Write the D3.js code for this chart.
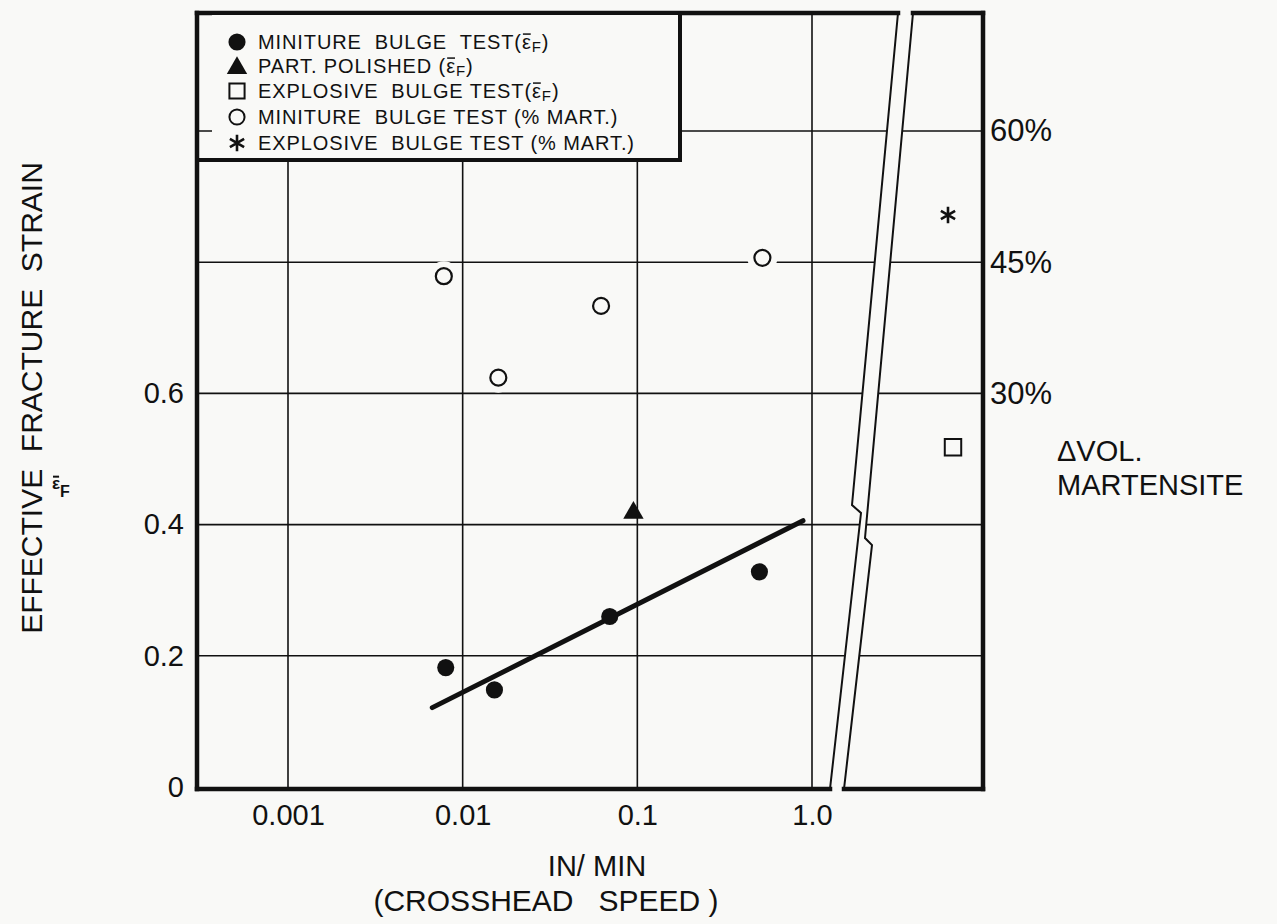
<!DOCTYPE html>
<html>
<head>
<meta charset="utf-8">
<script src="https://cdn.jsdelivr.net/npm/d3@7"></script>
<style>
  body { margin: 0; background: #f9f9f7; }
  text { font-family: "Liberation Sans", Arial, sans-serif; fill: #111; white-space: pre; }
</style>
</head>
<body>
<div id="chart"></div>
<script>
const width = 1277;
const height = 924;

// axis values
const speedTicks = [0.001, 0.01, 0.1, 1.0];
const speedTickLabels = ["0.001", "0.01", "0.1", "1.0"];
const strainTicks = [0, 0.2, 0.4, 0.6];
const strainGrid = [0.2, 0.4, 0.6, 0.8, 1.0];
const martTicks = [30, 45, 60];

// miniature bulge test, fracture strain
const miniSpeed = [0.008, 0.0152, 0.0695, 0.50];
const miniStrain = [0.182, 0.148, 0.26, 0.328];
// partially polished
const polishedSpeed = [0.095];
const polishedStrain = [0.418];
// miniature bulge test, % martensite
const miniMartSpeed = [0.0078, 0.016, 0.062, 0.52];
const miniMart = [43.4, 31.8, 40.0, 45.5];
// explosive bulge test (beyond the axis break)
const explosiveStrain = [0.518];
const explosiveMart = [50.4];
// fitted line
const fitSpeed = [0.0067, 0.888];
const fitStrain = [0.121, 0.406];

const legendLabels = [
    ["MINITURE  BULGE  TEST(", true],
    ["PART. POLISHED (", true],
    ["EXPLOSIVE  BULGE TEST(", true],
    ["MINITURE  BULGE TEST (% MART.)", false],
    ["EXPLOSIVE  BULGE TEST (% MART.)", false]
];

// frame
const L = 197, R = 983, T = 13, B = 789;

const x = d3.scaleLog().domain([0.001, 1]).range([288, 812]);
const y = d3.scaleLinear().domain([0, 1]).range([787, 131]);
const yMart = d3.scaleLinear().domain([30, 60]).range([y(0.6), y(1.0)]);
const xExp = d3.scalePoint().domain(["explosive"]).range([913, 983]).padding(0.5);

const svg = d3.select("#chart").append("svg")
    .attr("width", width).attr("height", height)
    .attr("viewBox", [0, 0, width, height]);

const ink = "#111";
const paper = "#f9f9f7";

// bar over a character of a text element (the epsilon of eps-bar F)
function barOver(textSel, index, parent, sw) {
    const r = textSel.node().getExtentOfChar(index);
    parent.append("line")
        .attr("x1", r.x + 1).attr("x2", r.x + r.width - 1)
        .attr("y1", r.y + r.height * 0.14).attr("y2", r.y + r.height * 0.14)
        .attr("stroke", ink).attr("stroke-width", sw);
}

// grid
const grid = svg.append("g").attr("stroke", ink).attr("stroke-width", 1.6);
grid.selectAll("line.h").data(strainGrid).join("line")
    .attr("x1", L).attr("x2", R)
    .attr("y1", d => y(d)).attr("y2", d => y(d));
grid.selectAll("line.v").data(speedTicks).join("line")
    .attr("y1", T).attr("y2", B)
    .attr("x1", d => x(d)).attr("x2", d => x(d));

// axis break band
const breakLeft = [[898, T], [852, 505], [861, 513], [830, B]];
const breakRight = [[913, T], [865, 538], [872, 545], [844, B]];
svg.append("path")
    .attr("d", "M" + breakLeft.concat(breakRight.slice().reverse()).join("L") + "Z")
    .attr("fill", paper);
[breakLeft, breakRight].forEach(pts => {
    svg.append("path").attr("d", d3.line()(pts))
        .attr("fill", "none").attr("stroke", ink).attr("stroke-width", 2);
});

// frame
const frame = svg.append("g").attr("stroke", ink).attr("stroke-width", 4.5).attr("stroke-linecap", "square");
[[L, T, 898, T], [913, T, R, T], [L, B, 830, B], [844, B, R, B], [L, T, L, B], [R, T, R, B]]
    .forEach(s => frame.append("line").attr("x1", s[0]).attr("y1", s[1]).attr("x2", s[2]).attr("y2", s[3]));

// legend box
const lg = svg.append("g");
lg.append("rect").attr("x", 212).attr("y", T + 2).attr("width", 468).attr("height", 145).attr("fill", paper);
lg.append("path").attr("d", `M${L},160H680V${T}`).attr("fill", "none")
    .attr("stroke", ink).attr("stroke-width", 4);

const legendSymbols = [
    {type: d3.symbolCircle, size: 230, fill: ink},
    {type: d3.symbolTriangle, size: 180, fill: ink},
    {type: d3.symbolSquare, size: 230, fill: "none"},
    {type: d3.symbolCircle, size: 180, fill: "none"},
    {type: d3.symbolAsterisk, size: 190, fill: "none"}
];
const rowY = [42, 66, 91, 117, 143];
legendLabels.forEach((lab, i) => {
    const s = legendSymbols[i];
    lg.append("path").attr("d", d3.symbol(s.type, s.size)())
        .attr("transform", `translate(237,${rowY[i] + (i === 1 ? 2 : 0)})`)
        .attr("fill", s.fill).attr("stroke", ink).attr("stroke-width", s.fill === "none" ? (i === 4 ? 2.6 : 2) : 0);
    const t = lg.append("text").attr("x", 258).attr("y", rowY[i] + 7)
        .attr("font-size", 20).attr("letter-spacing", 0.9);
    t.append("tspan").text(lab[0]);
    if (lab[1]) {
        t.append("tspan").text("\u03B5");
        t.append("tspan").attr("dy", 3).attr("font-size", 15).text("F");
        t.append("tspan").attr("dy", -3).text(")");
        barOver(t, lab[0].length, lg, 1.5);
    }
});

// axes
const axL = svg.append("g").attr("transform", `translate(${L},0)`)
    .call(d3.axisLeft(y).tickValues(strainTicks).tickSize(0).tickPadding(13)
        .tickFormat(d => d === 0 ? "0" : d3.format(".1f")(d)));
const axB = svg.append("g").attr("transform", `translate(0,${B})`)
    .call(d3.axisBottom(x).tickValues(speedTicks).tickSize(0).tickPadding(15)
        .tickFormat((d, i) => speedTickLabels[i]));
const axR = svg.append("g").attr("transform", `translate(${R},0)`)
    .call(d3.axisRight(yMart).tickValues(martTicks).tickSize(0).tickPadding(7)
        .tickFormat(d => d + "%"));
[axL, axB, axR].forEach(a => {
    a.select(".domain").remove();
    a.selectAll("text").attr("font-size", 29).attr("fill", ink);
    a.attr("font-family", null);
});
axR.selectAll("text").attr("font-size", 31);

// titles
svg.append("text").attr("transform", "translate(42,398) rotate(-90)")
    .attr("text-anchor", "middle").attr("font-size", 30)
    .text("EFFECTIVE  FRACTURE  STRAIN");
const ef = svg.append("text").attr("x", 52).attr("y", 489).attr("font-size", 17).attr("font-weight", "bold");
ef.append("tspan").text("\u03B5");
ef.append("tspan").attr("dy", 8).attr("font-size", 16).text("F");
barOver(ef, 0, svg, 2);

svg.append("text").attr("x", 597).attr("y", 876).attr("text-anchor", "middle").attr("font-size", 29).text("IN/ MIN");
svg.append("text").attr("x", 546).attr("y", 911).attr("text-anchor", "middle").attr("font-size", 30).text("(CROSSHEAD   SPEED )");

svg.append("text").attr("x", 1057).attr("y", 461).attr("font-size", 29).text("\u0394VOL.");
svg.append("text").attr("x", 1057).attr("y", 495).attr("font-size", 29).text("MARTENSITE");

// fitted line
svg.append("path")
    .attr("d", d3.line().x(d => x(d[0])).y(d => y(d[1]))(d3.zip(fitSpeed, fitStrain)))
    .attr("stroke", ink).attr("stroke-width", 5).attr("stroke-linecap", "round");

// data markers
const marks = svg.append("g");
marks.selectAll("path.mini").data(d3.zip(miniSpeed, miniStrain)).join("path")
    .attr("d", d3.symbol(d3.symbolCircle, 230)())
    .attr("transform", d => `translate(${x(d[0])},${y(d[1])})`).attr("fill", ink);
marks.selectAll("path.pol").data(d3.zip(polishedSpeed, polishedStrain)).join("path")
    .attr("d", d3.symbol(d3.symbolTriangle, 180)())
    .attr("transform", d => `translate(${x(d[0])},${y(d[1])})`).attr("fill", ink);
marks.selectAll("circle.halo").data(d3.zip(miniMartSpeed, miniMart)).join("circle")
    .attr("cx", d => x(d[0])).attr("cy", d => yMart(d[1])).attr("r", 15).attr("fill", paper);
marks.selectAll("circle.mart").data(d3.zip(miniMartSpeed, miniMart)).join("circle")
    .attr("cx", d => x(d[0])).attr("cy", d => yMart(d[1])).attr("r", 8)
    .attr("fill", "none").attr("stroke", ink).attr("stroke-width", 2.2);
marks.selectAll("path.exs").data(explosiveStrain).join("path")
    .attr("d", d3.symbol(d3.symbolSquare, 270)())
    .attr("transform", d => `translate(${xExp("explosive") + 5},${y(d)})`)
    .attr("fill", "none").attr("stroke", ink).attr("stroke-width", 2);
marks.selectAll("path.exm").data(explosiveMart).join("path")
    .attr("d", d3.symbol(d3.symbolAsterisk, 190)())
    .attr("transform", d => `translate(${xExp("explosive")},${yMart(d)})`)
    .attr("fill", "none").attr("stroke", ink).attr("stroke-width", 2.6);
</script>
</body>
</html>
